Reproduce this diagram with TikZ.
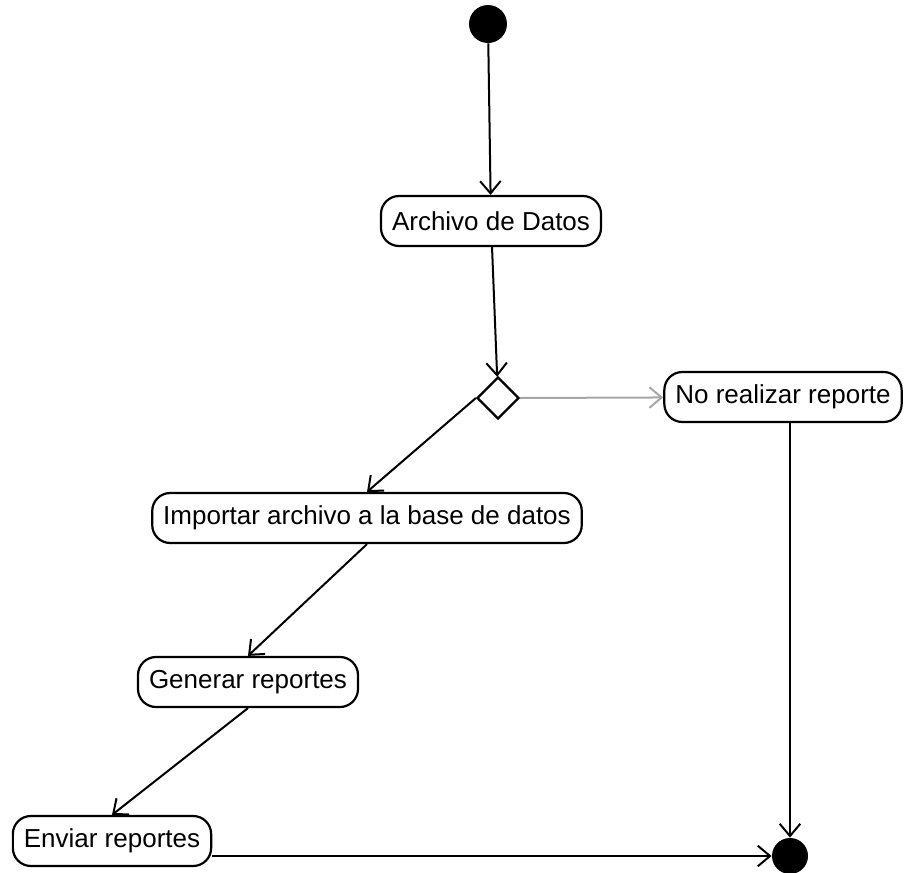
\documentclass[tikz,border=0pt]{standalone}
\usepackage{fontspec}
\setmainfont{Liberation Sans}
\usetikzlibrary{shapes.geometric,arrows.meta}

\begin{document}
\begin{tikzpicture}[x=0.5pt, y=-0.5pt,
            accion/.style={draw, line width=1.1pt, rounded corners=9pt, minimum height=25pt,
                inner xsep=5.5pt, font=\fontsize{13}{15}\selectfont},
            flujo/.style={line width=1pt, -{Straight Barb[angle=80:8pt]}}]
            \useasboundingbox (0,0) rectangle (907,873);

            \node[circle, fill, minimum size=19pt, inner sep=0pt] (inicio) at (488,24) {};
            \node[accion] (archivo) at (491,221) {Archivo de Datos};
            \node[diamond, draw, line width=1.1pt, minimum size=21pt, inner sep=0pt] (decision) at (498,398) {};
            \node[accion] (noreporte) at (783,397) {No realizar reporte};
            \node[accion] (importar) at (367,518) {Importar archivo a la base de datos};
            \node[accion] (generar) at (248,682) {Generar reportes};
            \node[accion] (enviar) at (112,841) {Enviar reportes};
            \node[circle, fill, minimum size=18pt, inner sep=0pt] (fin) at (790,856) {};

            \draw[flujo] (inicio) -- (archivo);
            \draw[flujo] (archivo) -- (decision);
            \draw[flujo, gray!70] (decision.east) -- (noreporte);
            \draw[flujo] (decision.west) -- (importar.north);
            \draw[flujo] (importar.south) -- (generar.north);
            \draw[flujo] (generar.south) -- (enviar.north);
            \draw[flujo] (enviar.east |- fin) -- (fin);
            \draw[flujo] (noreporte.south -| fin) -- (fin);
        \end{tikzpicture}
\end{document}
